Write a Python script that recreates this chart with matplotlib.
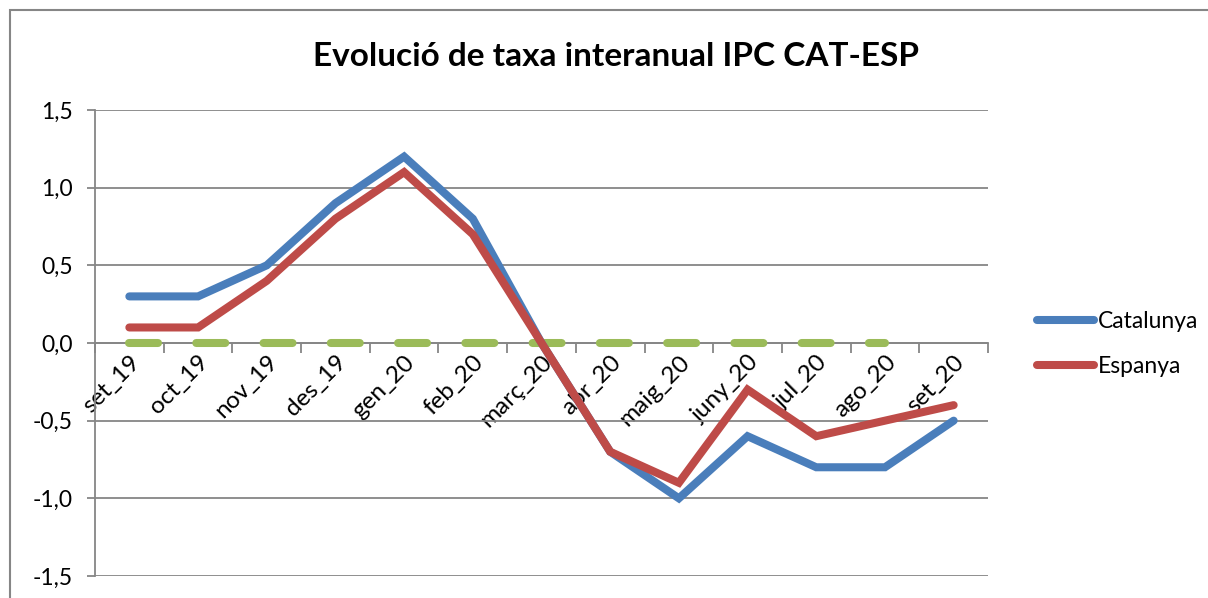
import matplotlib
matplotlib.use("Agg")
import matplotlib.pyplot as plt
from matplotlib.patches import Rectangle
from matplotlib.ticker import FixedLocator, FuncFormatter

plt.rcParams['font.family'] = ['Lato', 'DejaVu Sans']

# data
months = ["set_19", "oct_19", "nov_19", "des_19", "gen_20", "feb_20", "març_20",
          "abr_20", "maig_20", "juny_20", "jul_20", "ago_20", "set_20"]
catalunya = [0.3, 0.3, 0.5, 0.9, 1.2, 0.8, 0.0, -0.7, -1.0, -0.6, -0.8, -0.8, -0.5]
espanya = [0.1, 0.1, 0.4, 0.8, 1.1, 0.7, 0.0, -0.7, -0.9, -0.3, -0.6, -0.5, -0.4]
zero_ref = [0.0] * 12  # reference series stops at ago_20

blue = "#4A7EBB"
red = "#BE4B48"
green = "#9BBB59"
grey = "#868686"

fig = plt.figure(figsize=(12.08, 5.98), dpi=100)
ax = fig.add_axes([95 / 1208, 1 - 576 / 598, 893 / 1208, 466 / 598])

# chart area border (cropped on the right and bottom)
fig.patches.append(Rectangle((10 / 1208, -0.1), 1.2, 1 - 10 / 598 + 0.1,
                             transform=fig.transFigure, fill=False,
                             edgecolor=grey, linewidth=1.5))

x = list(range(len(months)))
lw = 5.8
ax.plot(x[:len(zero_ref)], zero_ref, color=green, linewidth=lw,
        dashes=(3.6, 4.75), dash_capstyle='round', zorder=3)
ax.plot(x, catalunya, color=blue, linewidth=lw, solid_capstyle='round',
        solid_joinstyle='miter', label="Catalunya", zorder=4)
ax.plot(x, espanya, color=red, linewidth=lw, solid_capstyle='round',
        solid_joinstyle='miter', label="Espanya", zorder=5)

ax.set_xlim(-0.5, len(months) - 0.5)
ax.set_ylim(-1.5, 1.5)

# y axis
ax.set_yticks([-1.5, -1.0, -0.5, 0.0, 0.5, 1.0, 1.5])
ax.yaxis.set_major_formatter(FuncFormatter(lambda v, p: f"{v:.1f}".replace(".", ",")))
ax.tick_params(axis='y', direction='out', length=6, width=1.3, color=grey,
               pad=10, labelsize=16.5)
ax.grid(axis='y', color=grey, linewidth=1.3, zorder=0)
ax.set_axisbelow(True)

# x axis sits on zero, ticks between categories
for s in ['top', 'right']:
    ax.spines[s].set_visible(False)
ax.spines['left'].set_color(grey)
ax.spines['left'].set_linewidth(1.3)
ax.spines['bottom'].set_position(('data', 0))
ax.spines['bottom'].set_color(grey)
ax.spines['bottom'].set_linewidth(1.3)

ax.xaxis.set_major_locator(FixedLocator(x))
ax.xaxis.set_minor_locator(FixedLocator([i - 0.5 for i in x] + [len(x) - 0.5]))
ax.xaxis.set_major_formatter(FuncFormatter(lambda v, p: months[int(round(v))]))
ax.tick_params(axis='x', which='major', length=0, pad=6, labelsize=17.5,
               labelrotation=45)
ax.tick_params(axis='x', which='minor', direction='out', length=7, width=1.3,
               color=grey)
for lab in ax.get_xticklabels():
    lab.set_horizontalalignment('right')
    lab.set_rotation_mode('anchor')

fig.text(616 / 1208, 1 - 57 / 598, "Evolució de taxa interanual IPC CAT-ESP",
         ha='center', va='center', fontsize=24, fontweight='bold')

ax.legend(loc='center left', bbox_to_anchor=(1026 / 1208, 1 - 344 / 598),
          bbox_transform=fig.transFigure, frameon=False, fontsize=16.5,
          handlelength=2.45, handletextpad=0.2, labelspacing=1.05, borderpad=0)

fig.savefig("out.png", dpi=100)
